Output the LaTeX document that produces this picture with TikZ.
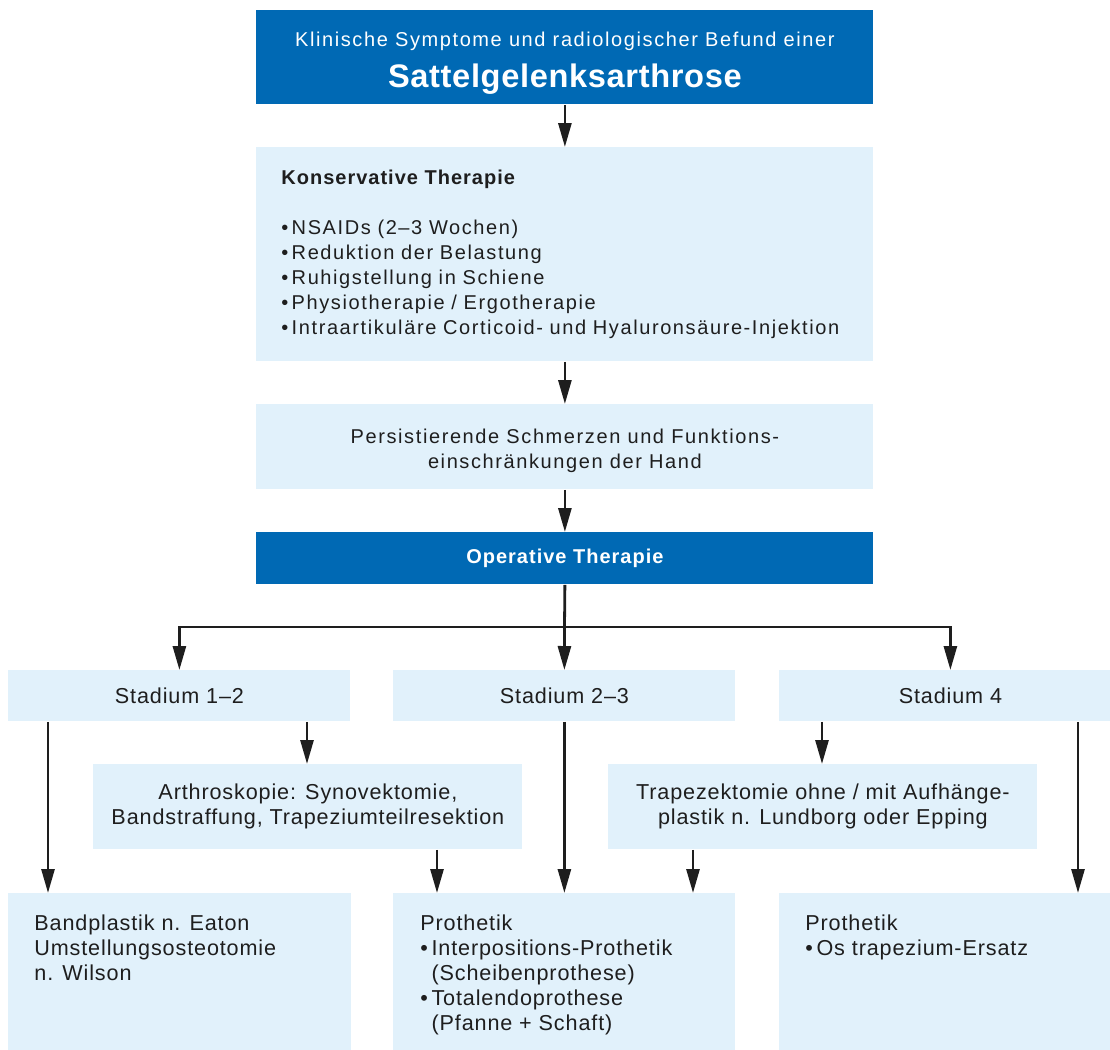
\documentclass[tikz,border=0pt]{standalone}
\usepackage{fontspec}
\setmainfont{Liberation Sans}
\newfontfamily\topf[LetterSpace=8]{Liberation Sans}
\newfontfamily\topbf[LetterSpace=5]{Liberation Sans}
\newfontfamily\titlef[LetterSpace=2]{Liberation Sans}
\newfontfamily\lowf[LetterSpace=4]{Liberation Sans}
\usetikzlibrary{arrows.meta}
\definecolor{dblue}{HTML}{0069B4}
\definecolor{lblue}{HTML}{E1F1FB}
\definecolor{ink}{HTML}{1E1E1E}
\begin{document}
\begin{tikzpicture}[x=0.5pt,y=-0.5pt,
  dbox/.style={fill=dblue, text=white, inner sep=0pt, anchor=north west, align=center},
  lbox/.style={fill=lblue, text=ink, inner sep=0pt, anchor=north west, align=center},
  conn/.style={draw=ink, line width=1.4pt, -{Triangle[length=12pt,width=6.5pt]}},
  plainline/.style={draw=ink, line width=1.4pt},
  toptext/.style={font=\topf\fontsize{10}{12.5}\selectfont},
  lowtext/.style={font=\lowf\fontsize{10.8}{12.5}\selectfont}]
\useasboundingbox (0,0) rectangle (1110,1050);

% top column
\node[dbox, toptext, minimum width=308.5pt, minimum height=47pt] (top) at (256,10)
  {\rule{0pt}{13pt}Klinische Symptome und radiologischer Befund einer\\[5.5pt]
   \titlef\fontsize{16.3}{20}\selectfont\bfseries Sattelgelenksarthrose};
\node[lbox, toptext, minimum height=107pt, text width=283.5pt, inner xsep=12.5pt, align=left] (kons) at (256,147)
  {{\topbf\bfseries Konservative Therapie}\\[12.5pt]
   •\,NSAIDs (2–3 Wochen)\\
   •\,Reduktion der Belastung\\
   •\,Ruhigstellung in Schiene\\
   •\,Physiotherapie / Ergotherapie\\
   •\,Intraartikuläre Corticoid- und Hyaluronsäure-Injektion};
\node[lbox, toptext, minimum width=308.5pt, minimum height=42.5pt] (pers) at (256,404)
  {\rule{0pt}{11pt}Persistierende Schmerzen und Funktions-\\einschränkungen der Hand};
\node[dbox, minimum width=308.5pt, minimum height=26pt, font=\topbf\fontsize{10}{12}\selectfont\bfseries] (op) at (256,532)
  {Operative Therapie};

% stages
\node[lbox, lowtext, minimum width=171pt, minimum height=25.5pt] (sA) at (8,670) {Stadium 1–2};
\node[lbox, lowtext, minimum width=171pt, minimum height=25.5pt] (sB) at (393,670) {Stadium 2–3};
\node[lbox, lowtext, minimum width=171pt, minimum height=25.5pt] (sC) at (779,670) {Stadium 4};

% middle procedures
\node[lbox, lowtext, minimum width=214.5pt, minimum height=42.5pt] (arth) at (93,764)
  {Arthroskopie: Synovektomie,\\Bandstraffung, Trapeziumteilresektion};
\node[lbox, lowtext, minimum width=214.5pt, minimum height=42.5pt] (trap) at (608,764)
  {Trapezektomie ohne / mit Aufhänge-\\plastik n. Lundborg oder Epping};

% bottom boxes
\node[lbox, lowtext, inner xsep=13pt, align=left] (bA) at (8,893)
  {\parbox[c][78.5pt][t]{145.5pt}{\vspace*{10.5pt}\raggedright
   Bandplastik n. Eaton\\Umstellungsosteotomie\\n. Wilson}};
\node[lbox, lowtext, inner xsep=13.5pt, align=left] (bB) at (393,893)
  {\parbox[c][78.5pt][t]{144pt}{\vspace*{10.5pt}\raggedright
   Prothetik\\•\,Interpositions-Prothetik\\\phantom{•\,}(Scheibenprothese)\\•\,Totalendoprothese\\\phantom{•\,}(Pfanne + Schaft)}};
\node[lbox, lowtext, inner xsep=13pt, align=left] (bC) at (779,893)
  {\parbox[c][78.5pt][t]{145pt}{\vspace*{10.5pt}\raggedright
   Prothetik\\•\,Os trapezium-Ersatz}};

% connectors
\draw[conn] (top.south) -- (kons.north);
\draw[conn] (kons.south) -- (pers.north);
\draw[conn] (pers.south) -- (op.north);
\coordinate (split) at (564.5,627);
\draw[plainline] (op.south) -- (split);
\draw[conn] (split) -| (sA.north);
\draw[conn] (split) -- (sB.north);
\draw[conn] (split) -| (sC.north);

\draw[conn] ([xshift=20pt]sA.south west) -- ([xshift=20pt]bA.north west);
\draw[conn] ([xshift=149.5pt]sA.south west) -- ([xshift=149.5pt]sA.south west |- arth.north);
\draw[conn] ([xshift=172pt]arth.south west) -- ([xshift=172pt]arth.south west |- bB.north);
\draw[conn] (sB.south) -- (sB.south |- bB.north);
\draw[conn] ([xshift=21.5pt]sC.south west) -- ([xshift=21.5pt]sC.south west |- trap.north);
\draw[conn] ([xshift=42.5pt]trap.south west) -- ([xshift=42.5pt]trap.south west |- bB.north);
\draw[conn] ([xshift=149.5pt]sC.south west) -- ([xshift=149.5pt]bC.north west);
\end{tikzpicture}
\end{document}
